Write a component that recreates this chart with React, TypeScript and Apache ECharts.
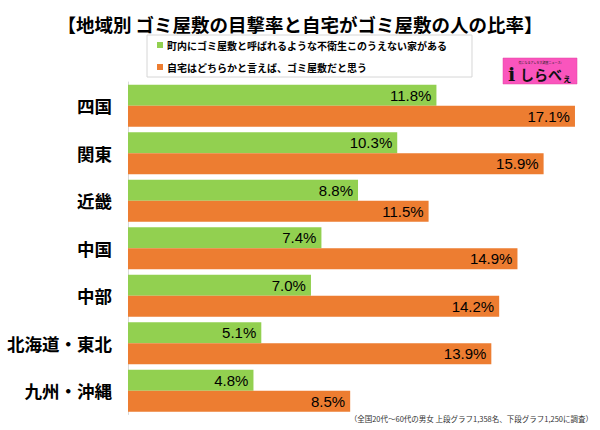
import React, { useEffect, useRef } from "react";
import * as echarts from "echarts";

const categories = ["四国", "関東", "近畿", "中国", "中部", "北海道・東北", "九州・沖縄"];
const seriesNames = [
  "町内にゴミ屋敷と呼ばれるような不衛生このうえない家がある",
  "自宅はどちらかと言えば、ゴミ屋敷だと思う",
];
const witnessRate = [11.8, 10.3, 8.8, 7.4, 7.0, 5.1, 4.8];
const ownHomeRate = [17.1, 15.9, 11.5, 14.9, 14.2, 13.9, 8.5];
const titleText = "【地域別 ゴミ屋敷の目撃率と自宅がゴミ屋敷の人の比率】";
const footnote = "（全国20代〜60代の男女 上段グラフ1,358名、下段グラフ1,250に調査）";

const JP = '"Noto Sans CJK JP", "Noto Sans", sans-serif';

export default function App() {
  const ref = useRef<HTMLDivElement>(null);
  useEffect(() => {
    if (!ref.current) return;
    const chart = echarts.init(ref.current, null, { renderer: "svg" });
    const label = {
      show: true,
      position: "insideRight",
      distance: 5,
      color: "#000",
      fontSize: 15,
      fontFamily: '"Liberation Sans", Arial, sans-serif',
      formatter: (p: any) => Number(p.value).toFixed(1) + "%",
    };
    chart.setOption({
      animation: false,
      backgroundColor: "#fff",
      title: {
        text: titleText,
        left: "center",
        top: 10,
        textStyle: { fontSize: 18.5, fontWeight: "bold", color: "#000", fontFamily: JP },
      },
      legend: {
        orient: "vertical",
        left: 147,
        top: 35,
        padding: [5, 25, 5, 10],
        borderColor: "#d6d6d6",
        borderWidth: 1,
        backgroundColor: "#fff",
        itemWidth: 6,
        itemHeight: 6,
        itemGap: 12,
        icon: "rect",
        textStyle: { fontSize: 10, fontWeight: "bold", color: "#000", fontFamily: JP, padding: [0, 0, 0, -1] },
        data: seriesNames,
      },
      grid: { left: 128, right: 1.5, top: 82, bottom: 15.5 },
      xAxis: { type: "value", min: 0, max: 18, show: false },
      yAxis: {
        type: "category",
        inverse: true,
        data: categories,
        axisLine: { show: true, lineStyle: { color: "#d9d9d9", width: 1 } },
        axisTick: { show: false },
        axisLabel: { margin: 16, fontSize: 17.5, fontWeight: "bold", color: "#000", fontFamily: JP },
      },
      series: [
        {
          name: seriesNames[0],
          type: "bar",
          data: witnessRate,
          barWidth: 21,
          barGap: "0%",
          itemStyle: { color: "#92d050" },
          label,
        },
        {
          name: seriesNames[1],
          type: "bar",
          data: ownHomeRate,
          barWidth: 21,
          barGap: "0%",
          itemStyle: { color: "#ed7d31" },
          label,
        },
      ],
      graphic: [
        {
          type: "rect",
          z: 10,
          x: 503,
          y: 58,
          shape: { x: 0, y: 0, width: 74, height: 26 },
          style: { fill: "#fa55bd", stroke: "#e040a0", lineWidth: 0.5 },
        },
        {
          type: "text",
          z: 11,
          x: 540,
          y: 61,
          style: {
            text: "気になるアレを大調査ニュース!",
            fontSize: 3,
            fill: "#222",
            align: "center",
            fontFamily: JP,
          },
        },
        {
          type: "text",
          z: 11,
          x: 508,
          y: 64,
          style: {
            text: "i",
            fontSize: 19,
            fontWeight: "bold",
            fill: "#111",
            fontFamily: '"DejaVu Serif", serif',
          },
        },
        {
          type: "text",
          z: 11,
          x: 520,
          y: 67,
          style: {
            text: "しらべ",
            fontSize: 14,
            fontWeight: "bold",
            fill: "#111",
            fontFamily: JP,
          },
        },
        {
          type: "text",
          z: 11,
          x: 562,
          y: 72,
          style: {
            text: "ぇ",
            fontSize: 10,
            fontWeight: "bold",
            fill: "#111",
            fontFamily: JP,
          },
        },
        {
          type: "text",
          right: 7,
          top: 415,
          style: {
            text: footnote,
            fontSize: 7.5,
            fill: "#333",
            fontFamily: JP,
          },
        },
      ],
    });
    return () => chart.dispose();
  }, []);
  return <div ref={ref} style={{ width: 600, height: 430, position: "absolute", left: 0, top: 0 }} />;
}
